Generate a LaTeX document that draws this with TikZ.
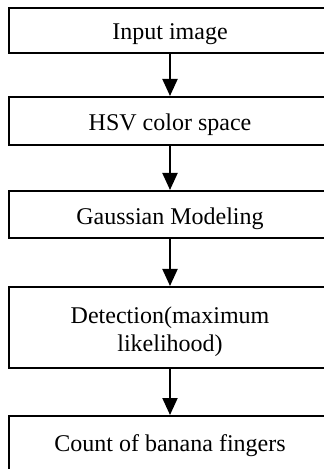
\documentclass[tikz,border=0pt]{standalone}
\usepackage{fontspec}
\setmainfont{Liberation Serif}
\usetikzlibrary{arrows.meta}
\begin{document}
\begin{tikzpicture}[x=0.5pt,y=-0.5pt,
  stepbox/.style={draw=black,line width=1pt,rectangle,minimum width=161pt,inner sep=0pt},
  txt/.style={inner sep=0pt,align=center,font=\fontsize{12}{14}\selectfont},
  flow/.style={line width=1pt,-{Triangle[width=7.5pt,length=8.5pt]}}]
\clip (0,0) rectangle (324,469);
\node[stepbox,minimum height=22.5pt] (b1) at (170,30.5) {};
\node[stepbox,minimum height=24pt] (b2) at (170,121) {};
\node[stepbox,minimum height=23.5pt] (b3) at (170,214.5) {};
\node[stepbox,minimum height=40.5pt] (b4) at (170,327.5) {};
\node[stepbox,minimum height=28pt] (b5) at (170,444) {};
\node[txt] (t1) at ([yshift=-2pt]b1.center) {Input image};
\node[txt] (t2) at ([yshift=-2pt]b2.center) {HSV color space};
\node[txt] (t3) at ([yshift=-2pt]b3.center) {Gaussian Modeling};
\node[txt] (t4) at ([yshift=-2pt]b4.center) {Detection(maximum\\likelihood)};
\node[txt] (t5) at ([yshift=-1pt]b5.center) {Count of banana fingers};
\draw[flow] (b1.south) -- (b2.north);
\draw[flow] (b2.south) -- (b3.north);
\draw[flow] (b3.south) -- (b4.north);
\draw[flow] (b4.south) -- (b5.north);
\end{tikzpicture}
\end{document}
